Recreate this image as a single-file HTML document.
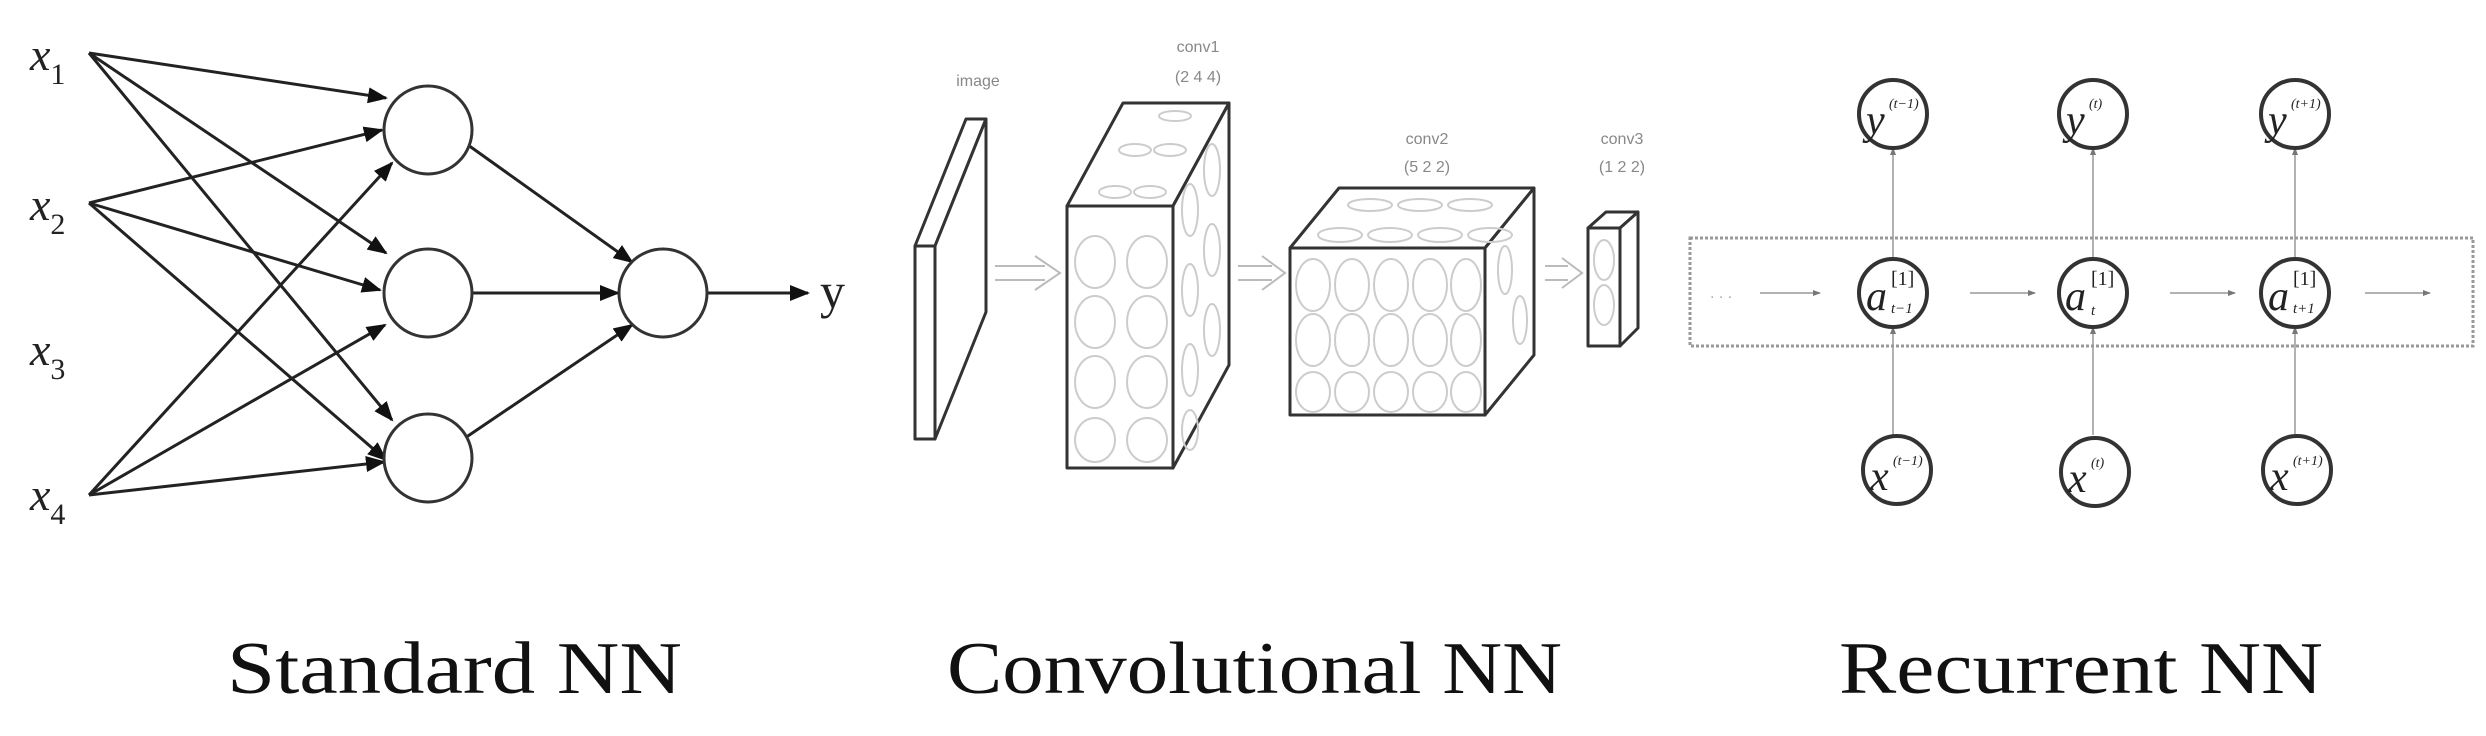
<!DOCTYPE html>
<html><head><meta charset="utf-8"><style>
html,body{margin:0;padding:0;background:#fff;}
svg{display:block;}
.s{font-family:"Liberation Serif",serif;}
</style></head><body>
<svg width="2486" height="736" viewBox="0 0 2486 736" xmlns="http://www.w3.org/2000/svg">
<defs>
<marker id="ah2" markerWidth="20" markerHeight="16" refX="18" refY="8" orient="auto" markerUnits="userSpaceOnUse"><path d="M0,0 L20,8 L0,16 z" fill="#111"/></marker>
<marker id="ag" markerWidth="8" markerHeight="8" refX="7" refY="4" orient="auto" markerUnits="userSpaceOnUse"><path d="M0,1 L8,4 L0,7 z" fill="#777"/></marker>
</defs>

<!-- ===== Standard NN ===== -->
<g stroke="#222" stroke-width="3" fill="none" marker-end="url(#ah2)">
<line x1="89" y1="53" x2="386" y2="98"/>
<line x1="89" y1="53" x2="386" y2="253"/>
<line x1="89" y1="53" x2="392" y2="420"/>
<line x1="89" y1="203" x2="382" y2="130"/>
<line x1="89" y1="203" x2="380" y2="290"/>
<line x1="89" y1="203" x2="386" y2="460"/>
<line x1="89" y1="495" x2="392" y2="163"/>
<line x1="89" y1="495" x2="385" y2="325"/>
<line x1="89" y1="495" x2="384" y2="462"/>
<line x1="468" y1="145" x2="632" y2="262"/>
<line x1="472" y1="293" x2="618" y2="293"/>
<line x1="462" y1="440" x2="632" y2="325"/>
<line x1="707" y1="293" x2="808" y2="293"/>
</g>
<g stroke="#333" stroke-width="3" fill="#fff">
<circle cx="428" cy="130" r="44"/>
<circle cx="428" cy="293" r="44"/>
<circle cx="428" cy="458" r="44"/>
<circle cx="663" cy="293" r="44"/>
</g>
<g class="s" font-style="italic" font-size="46" fill="#222">
<text x="30" y="70">x<tspan font-size="30" dy="14" font-style="normal">1</tspan></text>
<text x="30" y="220">x<tspan font-size="30" dy="14" font-style="normal">2</tspan></text>
<text x="30" y="365">x<tspan font-size="30" dy="14" font-style="normal">3</tspan></text>
<text x="30" y="510">x<tspan font-size="30" dy="14" font-style="normal">4</tspan></text>
</g>
<text class="s" x="820" y="308" font-size="50" fill="#222">y</text>
<text class="s" x="227" y="693" font-size="74" fill="#111" textLength="455" lengthAdjust="spacingAndGlyphs">Standard NN</text>

<!-- ===== Convolutional NN ===== -->
<g stroke="#333" stroke-width="3" fill="#fff" stroke-linejoin="round">
<polygon points="915,246 966,119 986,119 935,246"/>
<polygon points="935,246 986,119 986,312 935,439"/>
<rect x="915" y="246" width="20" height="193"/>
<polygon points="1067,206 1123,103 1229,103 1173,206"/>
<polygon points="1173,206 1229,103 1229,365 1173,468"/>
<rect x="1067" y="206" width="106" height="262"/>
<polygon points="1290,248 1339,188 1534,188 1485,248"/>
<polygon points="1485,248 1534,188 1534,355 1485,415"/>
<rect x="1290" y="248" width="195" height="167"/>
<polygon points="1588,228 1606,212 1638,212 1620,228"/>
<polygon points="1620,228 1638,212 1638,328 1620,346"/>
<rect x="1588" y="228" width="32" height="118"/>
</g>
<g stroke="#ccc" stroke-width="2" fill="none">
<ellipse cx="1095" cy="262" rx="20" ry="26"/><ellipse cx="1147" cy="262" rx="20" ry="26"/>
<ellipse cx="1095" cy="322" rx="20" ry="26"/><ellipse cx="1147" cy="322" rx="20" ry="26"/>
<ellipse cx="1095" cy="382" rx="20" ry="26"/><ellipse cx="1147" cy="382" rx="20" ry="26"/>
<ellipse cx="1095" cy="440" rx="20" ry="22"/><ellipse cx="1147" cy="440" rx="20" ry="22"/>
<ellipse cx="1190" cy="210" rx="8" ry="26"/><ellipse cx="1212" cy="170" rx="8" ry="26"/>
<ellipse cx="1190" cy="290" rx="8" ry="26"/><ellipse cx="1212" cy="250" rx="8" ry="26"/>
<ellipse cx="1190" cy="370" rx="8" ry="26"/><ellipse cx="1212" cy="330" rx="8" ry="26"/>
<ellipse cx="1190" cy="430" rx="8" ry="20"/>
<ellipse cx="1115" cy="192" rx="16" ry="6"/><ellipse cx="1150" cy="192" rx="16" ry="6"/>
<ellipse cx="1135" cy="150" rx="16" ry="6"/><ellipse cx="1170" cy="150" rx="16" ry="6"/>
<ellipse cx="1175" cy="116" rx="16" ry="5"/>
<ellipse cx="1313" cy="285" rx="17" ry="26"/><ellipse cx="1352" cy="285" rx="17" ry="26"/><ellipse cx="1391" cy="285" rx="17" ry="26"/><ellipse cx="1430" cy="285" rx="17" ry="26"/><ellipse cx="1466" cy="285" rx="15" ry="26"/>
<ellipse cx="1313" cy="340" rx="17" ry="26"/><ellipse cx="1352" cy="340" rx="17" ry="26"/><ellipse cx="1391" cy="340" rx="17" ry="26"/><ellipse cx="1430" cy="340" rx="17" ry="26"/><ellipse cx="1466" cy="340" rx="15" ry="26"/>
<ellipse cx="1313" cy="392" rx="17" ry="20"/><ellipse cx="1352" cy="392" rx="17" ry="20"/><ellipse cx="1391" cy="392" rx="17" ry="20"/><ellipse cx="1430" cy="392" rx="17" ry="20"/><ellipse cx="1466" cy="392" rx="15" ry="20"/>
<ellipse cx="1340" cy="235" rx="22" ry="7"/><ellipse cx="1390" cy="235" rx="22" ry="7"/><ellipse cx="1440" cy="235" rx="22" ry="7"/><ellipse cx="1490" cy="235" rx="22" ry="7"/>
<ellipse cx="1370" cy="205" rx="22" ry="6"/><ellipse cx="1420" cy="205" rx="22" ry="6"/><ellipse cx="1470" cy="205" rx="22" ry="6"/>
<ellipse cx="1505" cy="270" rx="7" ry="24"/><ellipse cx="1520" cy="320" rx="7" ry="24"/>
<ellipse cx="1604" cy="260" rx="10" ry="20"/><ellipse cx="1604" cy="305" rx="10" ry="20"/>
</g>
<g stroke="#bbb" stroke-width="2" fill="none">
<path d="M995,266 H1045 M995,280 H1045 M1035,256 L1060,273 L1035,290"/>
<path d="M1238,266 H1272 M1238,280 H1272 M1262,256 L1285,273 L1262,290"/>
<path d="M1545,266 H1568 M1545,280 H1568 M1562,258 L1582,273 L1562,288"/>
</g>
<g font-family="Liberation Sans,sans-serif" font-size="16" fill="#888" text-anchor="middle">
<text x="978" y="86">image</text>
<text x="1198" y="52">conv1</text><text x="1198" y="82">(2  4  4)</text>
<text x="1427" y="144">conv2</text><text x="1427" y="172">(5  2  2)</text>
<text x="1622" y="144">conv3</text><text x="1622" y="172">(1  2  2)</text>
</g>
<text class="s" x="947" y="693" font-size="74" fill="#111" textLength="615" lengthAdjust="spacingAndGlyphs">Convolutional NN</text>

<!-- ===== Recurrent NN ===== -->
<rect x="1690" y="238" width="783" height="108" fill="none" stroke="#999" stroke-width="3" stroke-dasharray="3,2"/>
<g stroke="#999" stroke-width="1.5" marker-end="url(#ag)">
<line x1="1893" y1="260" x2="1893" y2="148"/>
<line x1="2093" y1="260" x2="2093" y2="148"/>
<line x1="2295" y1="260" x2="2295" y2="148"/>
<line x1="1893" y1="435" x2="1893" y2="327"/>
<line x1="2093" y1="435" x2="2093" y2="327"/>
<line x1="2295" y1="435" x2="2295" y2="327"/>
<line x1="1760" y1="293" x2="1820" y2="293"/>
<line x1="1970" y1="293" x2="2035" y2="293"/>
<line x1="2170" y1="293" x2="2235" y2="293"/>
<line x1="2365" y1="293" x2="2430" y2="293"/>
</g>
<text x="1710" y="298" font-size="16" fill="#aaa" font-family="Liberation Sans,sans-serif">. . .</text>
<g stroke="#333" stroke-width="4" fill="#fff">
<circle cx="1893" cy="114" r="34"/><circle cx="2093" cy="114" r="34"/><circle cx="2295" cy="114" r="34"/>
<circle cx="1893" cy="293" r="34"/><circle cx="2093" cy="293" r="34"/><circle cx="2295" cy="293" r="34"/>
<circle cx="1897" cy="470" r="34"/><circle cx="2095" cy="472" r="34"/><circle cx="2297" cy="470" r="34"/>
</g>
<g class="s" font-style="italic" fill="#222">
<g font-size="42">
<text x="1866" y="134">y</text><text x="2066" y="134">y</text><text x="2268" y="134">y</text>
<text x="1866" y="310">a</text><text x="2065" y="310">a</text><text x="2268" y="310">a</text>
<text x="1870" y="490">x</text><text x="2068" y="492">x</text><text x="2270" y="490">x</text>
</g>
<g font-size="14">
<text x="1889" y="108">(t−1)</text><text x="2089" y="108">(t)</text><text x="2291" y="108">(t+1)</text>
<text x="1893" y="465">(t−1)</text><text x="2091" y="467">(t)</text><text x="2293" y="465">(t+1)</text>
</g>
<g font-size="20" font-style="normal">
<text x="1891" y="285">[1]</text><text x="2091" y="285">[1]</text><text x="2293" y="285">[1]</text>
</g>
<g font-size="15">
<text x="1891" y="313">t−1</text><text x="2091" y="315">t</text><text x="2293" y="313">t+1</text>
</g>
</g>
<text class="s" x="1839" y="693" font-size="74" fill="#111" textLength="484" lengthAdjust="spacingAndGlyphs">Recurrent NN</text>
</svg>
</body></html>
